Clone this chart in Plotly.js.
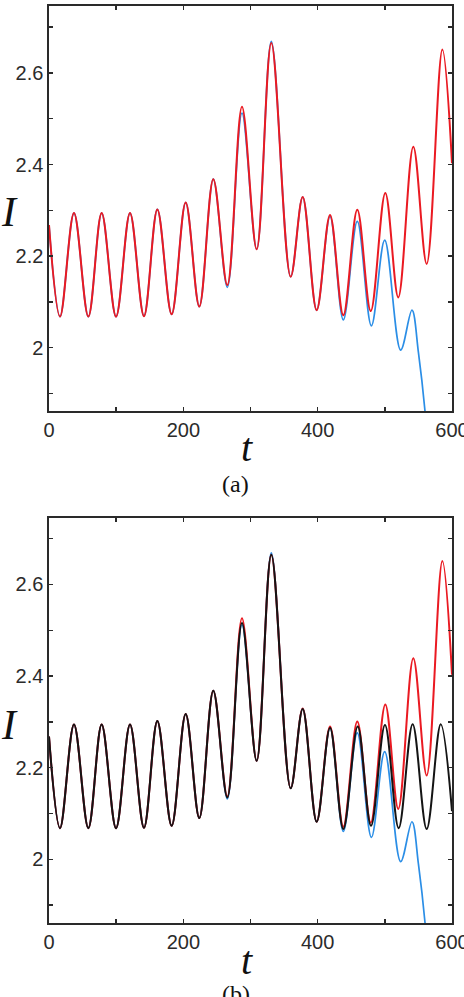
<!DOCTYPE html>
<html>
<head>
<meta charset="utf-8">
<script src="https://cdn.plot.ly/plotly-3.0.1.min.js"></script>
<style>
  html, body { margin: 0; padding: 0; background: #fff; }
  #chart { width: 464px; height: 997px; }
</style>
</head>
<body>
<div id="chart"></div>
<script>
// Turning points (peaks and troughs) of each intensity trace I(t), plus end points.

// Red trace (drawn in both panels)
const tRed = [0, 16.4, 37.2, 58.6, 78.4, 99.8, 120.6, 141.4, 161.3, 182.6,
  203.5, 223.8, 244.6, 265.5, 287.3, 309.2, 331, 359.8, 377.7, 398.5,
  418.4, 438.2, 459, 479, 500.7, 520, 542.4, 562.3, 585.6, 600];
const iRed = [2.268, 2.068, 2.294, 2.068, 2.294, 2.068, 2.294, 2.069, 2.302, 2.073,
  2.317, 2.090, 2.368, 2.137, 2.526, 2.215, 2.665, 2.155, 2.329, 2.082,
  2.290, 2.071, 2.301, 2.080, 2.338, 2.110, 2.439, 2.183, 2.651, 2.403];

// Blue trace (drawn in both panels), runs off the bottom near t = 560
const tBlue = [0, 16.4, 37.2, 58.6, 78.4, 99.8, 120.6, 141.4, 161.3, 182.6,
  203.5, 223.8, 244.6, 265.5, 287.3, 309.2, 331, 359.8, 377.7, 398.5,
  418.4, 438.2, 459, 480, 499.8, 523.6, 540.4, 550, 559.8, 570];
const iBlue = [2.268, 2.068, 2.294, 2.068, 2.294, 2.068, 2.294, 2.069, 2.302, 2.073,
  2.317, 2.090, 2.368, 2.132, 2.512, 2.215, 2.669, 2.155, 2.329, 2.082,
  2.287, 2.061, 2.276, 2.048, 2.235, 1.995, 2.082, 1.990, 1.862, 1.660];

// Black trace (panel b only)
const tBlack = [0, 16.4, 37.2, 58.6, 78.4, 99.8, 120.6, 141.4, 161.3, 182.6,
  203.5, 223.8, 244.6, 265.5, 287.3, 309.2, 331, 359.8, 377.7, 398.5,
  418.4, 438.2, 459.6, 479.4, 500.2, 520.6, 541.4, 562.3, 583.2, 600];
const iBlack = [2.268, 2.068, 2.294, 2.068, 2.294, 2.068, 2.294, 2.069, 2.302, 2.073,
  2.317, 2.090, 2.368, 2.135, 2.516, 2.215, 2.665, 2.155, 2.328, 2.082,
  2.287, 2.066, 2.290, 2.073, 2.293, 2.068, 2.295, 2.066, 2.295, 2.105];

// Axis ticks
const xTicks = [0, 200, 400, 600];
const yTicks = [2, 2.2, 2.4, 2.6];
const yTickText = ['2', '2.2', '2.4', '2.6'];

const W = 464, H = 997;
const RED = '#ea1a22', BLUE = '#2b8ee6', BLACK = '#141414';
const AXIS = '#2a2a2a';

// pixel -> paper helpers for layout placement
const px = v => v / W;
const py = v => 1 - v / H;

function lineTrace(x, y, color, width, xa, ya) {
  return {
    type: 'scatter', mode: 'lines', x: x, y: y,
    xaxis: xa, yaxis: ya, hoverinfo: 'skip',
    line: { color: color, width: width, shape: 'spline', smoothing: 1 }
  };
}

const data = [
  // panel (a)
  lineTrace(tBlue, iBlue, BLUE, 1.7, 'x', 'y'),
  lineTrace(tRed, iRed, RED, 2, 'x', 'y'),
  // panel (b)
  lineTrace(tBlue, iBlue, BLUE, 1.7, 'x2', 'y2'),
  lineTrace(tRed, iRed, RED, 2, 'x2', 'y2'),
  lineTrace(tBlack, iBlack, BLACK, 2, 'x2', 'y2')
];

const tickFont = { family: 'Liberation Sans, Arial, sans-serif', size: 20, color: '#2b2b2b' };

function xAxis(anchor, dom) {
  return {
    anchor: anchor, domain: dom, range: [0, 600], fixedrange: true,
    showline: true, linecolor: AXIS, linewidth: 1.6, mirror: 'ticks',
    showgrid: false, zeroline: false,
    tickmode: 'array', tickvals: xTicks, ticktext: xTicks.map(String),
    ticks: 'inside', ticklen: 4, tickwidth: 1.4, tickcolor: AXIS,
    tickfont: tickFont, ticklabeloverflow: 'allow',
    minor: { dtick: 100, tick0: 0, ticks: 'inside', ticklen: 4, tickwidth: 1.4, tickcolor: AXIS, showgrid: false }
  };
}
function yAxis(anchor, dom, range) {
  return {
    anchor: anchor, domain: dom, range: range, fixedrange: true,
    showline: true, linecolor: AXIS, linewidth: 1.6, mirror: 'ticks',
    showgrid: false, zeroline: false,
    tickmode: 'array', tickvals: yTicks, ticktext: yTickText,
    ticks: 'inside', ticklen: 4, tickwidth: 1.4, tickcolor: AXIS,
    tickfont: tickFont,
    minor: { dtick: 0.1, tick0: 1.9, ticks: 'inside', ticklen: 4, tickwidth: 1.4, tickcolor: AXIS, showgrid: false }
  };
}

const serif = 'Liberation Serif, Times New Roman, serif';
function label(text, x, y, size, italic) {
  return {
    xref: 'paper', yref: 'paper', x: px(x), y: py(y),
    xanchor: 'center', yanchor: 'middle', showarrow: false,
    text: italic ? '<i>' + text + '</i>' : text,
    font: { family: serif, size: size, color: '#111' }
  };
}

const layout = {
  width: W, height: H,
  margin: { l: 0, r: 0, t: 0, b: 0 },
  paper_bgcolor: '#fff', plot_bgcolor: '#fff',
  showlegend: false,
  xaxis: xAxis('y', [px(49), px(452)]),
  yaxis: yAxis('x', [py(411), py(6)], [1.862, 2.746]),
  xaxis2: xAxis('y2', [px(49), px(452)]),
  yaxis2: yAxis('x2', [py(923), py(518)], [1.861, 2.745]),
  annotations: [
    label('I', 9, 212, 42, true),
    label('t', 247, 448, 40, true),
    label('(a)', 236, 484, 24, false),
    label('I', 9, 725, 42, true),
    label('t', 247, 960, 40, true),
    label('(b)', 236, 994, 24, false)
  ]
};

Plotly.newPlot('chart', data, layout, { staticPlot: true, displayModeBar: false });
</script>
</body>
</html>
